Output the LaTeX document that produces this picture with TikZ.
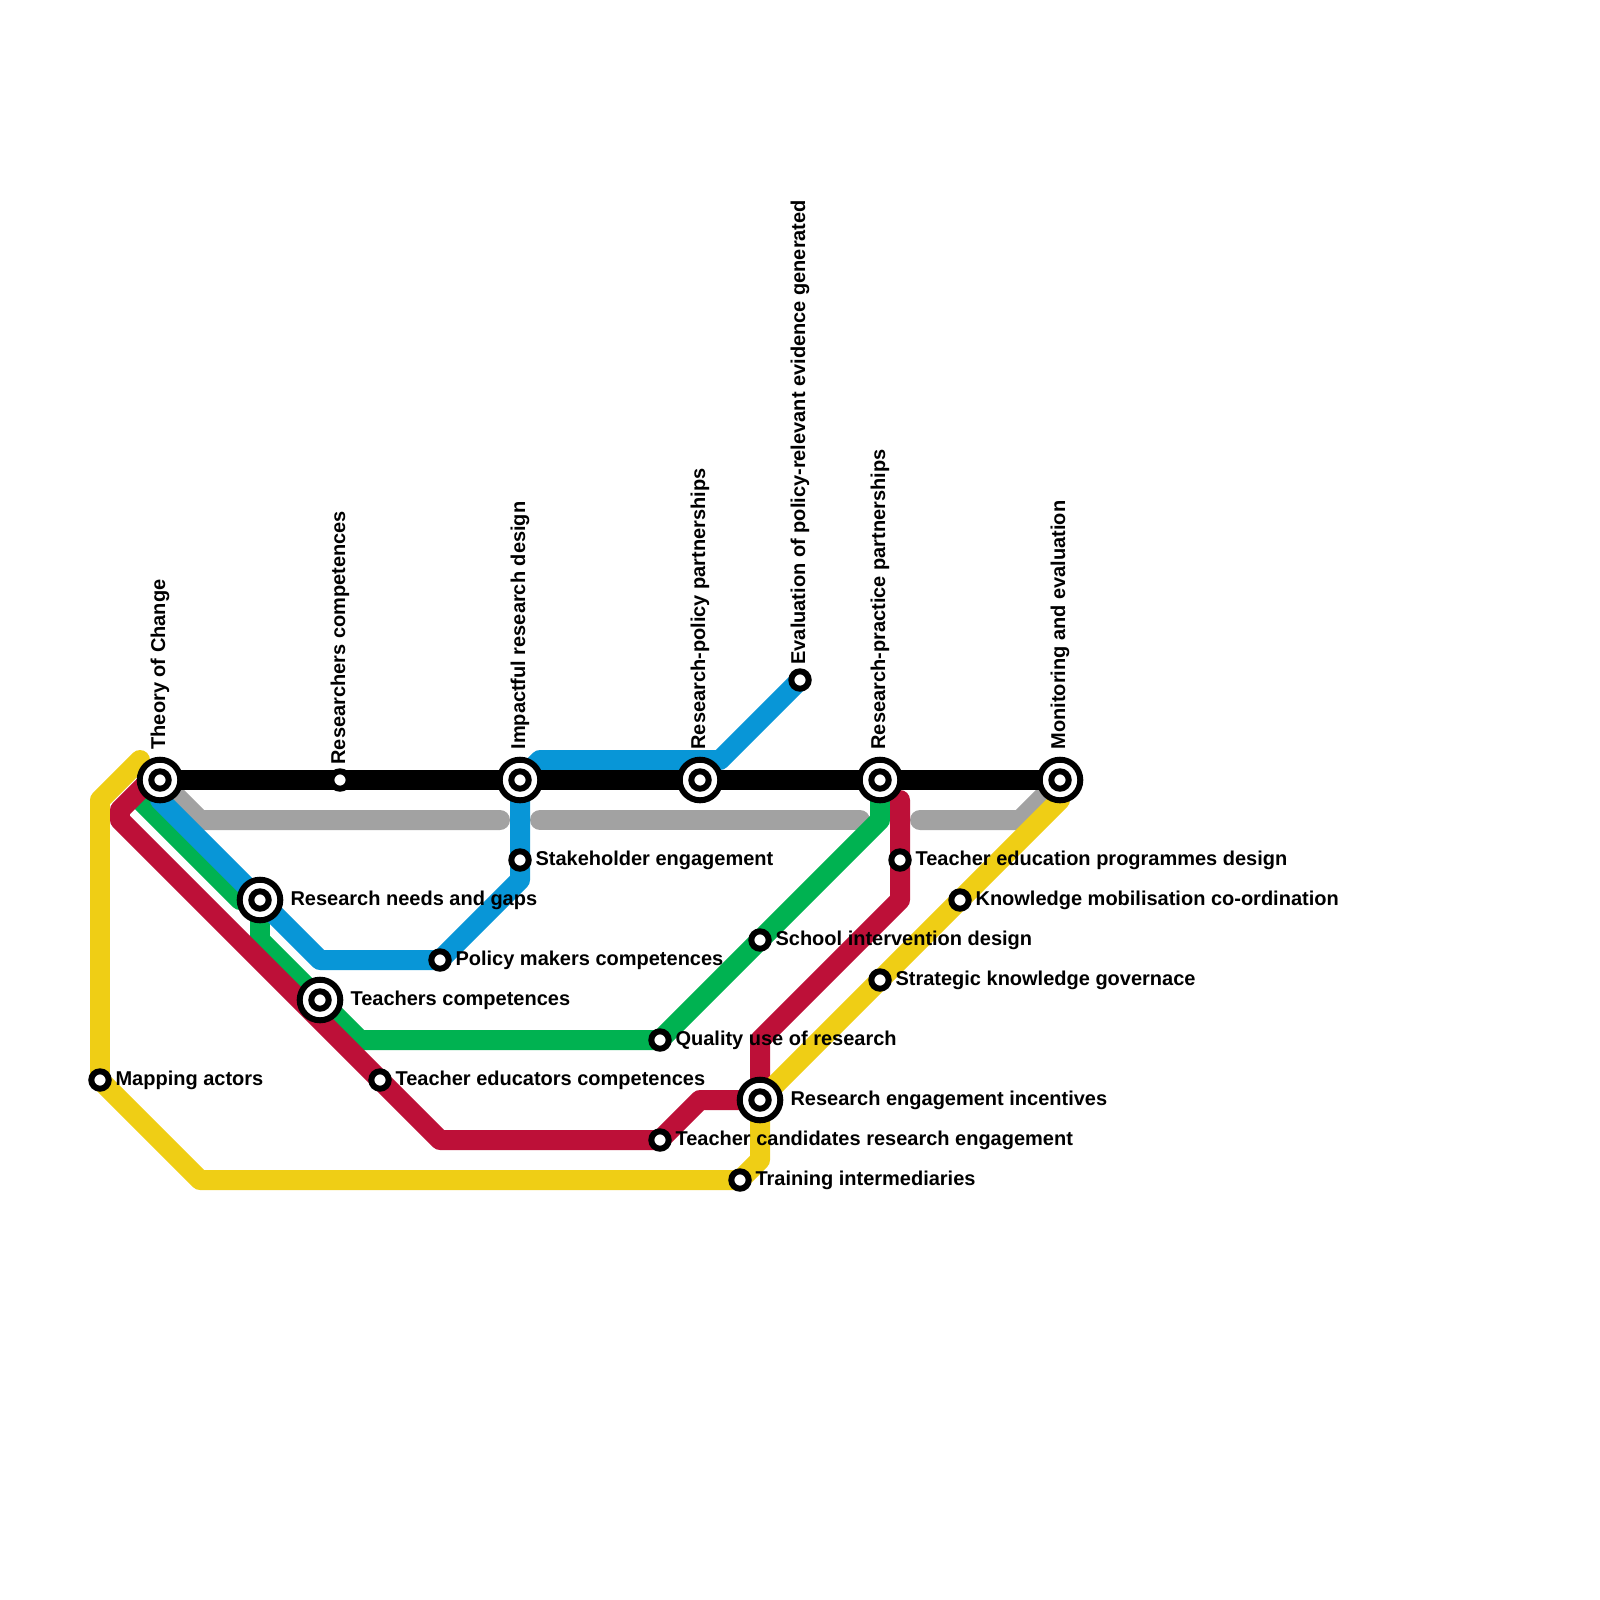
\documentclass[tikz,border=0pt]{standalone}
\usepackage{fontspec}
\setmainfont{Liberation Sans}
\definecolor{linegray}{HTML}{A2A2A2}
\definecolor{lineblue}{HTML}{0896D7}
\definecolor{linegreen}{HTML}{00B251}
\definecolor{linered}{HTML}{BD1038}
\definecolor{lineyellow}{HTML}{EFCE15}
\def\px{0.0125cm}
\tikzset{
  metro/.style={line width=20*\px, line join=round, line cap=round},
  hubring/.style={circle, draw=black, fill=white, line width=6*\px, minimum size=40.6*\px, inner sep=0pt},
  stop/.style={circle, draw=black, fill=white, line width=6*\px, minimum size=17.4*\px, inner sep=0pt},
  txt/.style={font=\fontsize{7.11pt}{8.5pt}\bfseries\selectfont, inner sep=0pt, anchor=base west},
  stoplabel/.style={xshift=15*\px, yshift=-5*\px, txt},
  hublabel/.style={xshift=30*\px, yshift=-5*\px, txt},
  stopup/.style={xshift=5*\px, yshift=15*\px, rotate=90, txt},
  hubup/.style={xshift=5*\px, yshift=30*\px, rotate=90, txt},
}
\begin{document}
\begin{tikzpicture}[x=0.25cm, y=-0.25cm]
  \useasboundingbox (0,0) rectangle (80,80);

  % Stations
  \coordinate (toc) at (8,39);
  \coordinate (rescomp) at (17,39);
  \coordinate (design) at (26,39);
  \coordinate (policy) at (35,39);
  \coordinate (practice) at (44,39);
  \coordinate (monitor) at (53,39);
  \coordinate (gaps) at (13,45);
  \coordinate (teachers) at (16,50);
  \coordinate (mapping) at (5,54);
  \coordinate (educators) at (19,54);
  \coordinate (makers) at (22,48);
  \coordinate (stake) at (26,43);
  \coordinate (evaluation) at (40,34);
  \coordinate (quality) at (33,52);
  \coordinate (school) at (38,47);
  \coordinate (candidates) at (33,57);
  \coordinate (training) at (37,59);
  \coordinate (incentives) at (38,55);
  \coordinate (programmes) at (45,43);
  \coordinate (mobilisation) at (48,45);
  \coordinate (governance) at (44,49);

  % Grey line
  \draw[metro, linegray] (toc) -- (10,41) -- (25,41);
  \draw[metro, linegray] (27,41) -- (43,41);
  \draw[metro, linegray] (46,41) -- (51,41) -- (monitor);

  % Green line
  \draw[metro, linegreen] (toc) -- (7,40) -- (12,45) -- (gaps) -- (13,47) -- (18,52)
    -- (quality) -- (school) -- (44,41) -- (practice);

  % Blue line
  \draw[metro, lineblue] (toc) -- (8,40) -- (gaps) -- (16,48) -- (makers) -- (26,44)
    -- (stake) -- (design) -- (27,38) -- (36,38) -- (evaluation);

  % Red line
  \draw[metro, linered] (7.5,39) -- (6,40.5) -- (6,41) -- (educators) -- (22,57)
    -- (candidates) -- (35,55) -- (incentives) -- (38,52) -- (45,45) -- (programmes) -- (45,40);

  % Yellow line
  \draw[metro, lineyellow] (7,38) -- (5,40) -- (mapping) -- (10,59) -- (training)
    -- (38,58) -- (incentives) -- (governance) -- (mobilisation) -- (53,40) -- (monitor);

  % Black line
  \draw[metro, black] (toc) -- (rescomp) -- (design) -- (policy) -- (practice) -- (monitor);

  % Interchange rings
  \foreach \n in {toc,design,policy,practice,monitor,gaps,teachers,incentives}
    \node[hubring] (\n ring) at (\n) {};

  % Station dots
  \foreach \n in {toc,rescomp,design,policy,practice,monitor,gaps,teachers,mapping,educators,
    makers,stake,evaluation,quality,school,candidates,training,incentives,programmes,
    mobilisation,governance}
    \node[stop] (\n dot) at (\n) {};

  % Labels
  \node[hubup] (toc label) at (toc) {Theory of Change};
  \node[stopup] (rescomp label) at (rescomp) {Researchers competences};
  \node[hubup] (design label) at (design) {Impactful research design};
  \node[hubup] (policy label) at (policy) {Research-policy partnerships};
  \node[stopup] (evaluation label) at (evaluation) {Evaluation of policy-relevant evidence generated};
  \node[hubup] (practice label) at (practice) {Research-practice partnerships};
  \node[hubup] (monitor label) at (monitor) {Monitoring and evaluation};
  \node[hublabel] (gaps label) at (gaps) {Research needs and gaps};
  \node[hublabel] (teachers label) at (teachers) {Teachers competences};
  \node[hublabel] (incentives label) at (incentives) {Research engagement incentives};
  \node[stoplabel] (mapping label) at (mapping) {Mapping actors};
  \node[stoplabel] (educators label) at (educators) {Teacher educators competences};
  \node[stoplabel] (makers label) at (makers) {Policy makers competences};
  \node[stoplabel] (stake label) at (stake) {Stakeholder engagement};
  \node[stoplabel] (quality label) at (quality) {Quality use of research};
  \node[stoplabel] (school label) at (school) {School intervention design};
  \node[stoplabel] (candidates label) at (candidates) {Teacher candidates research engagement};
  \node[stoplabel] (training label) at (training) {Training intermediaries};
  \node[stoplabel] (programmes label) at (programmes) {Teacher education programmes design};
  \node[stoplabel] (mobilisation label) at (mobilisation) {Knowledge mobilisation co-ordination};
  \node[stoplabel] (governance label) at (governance) {Strategic knowledge governace};
\end{tikzpicture}
\end{document}
